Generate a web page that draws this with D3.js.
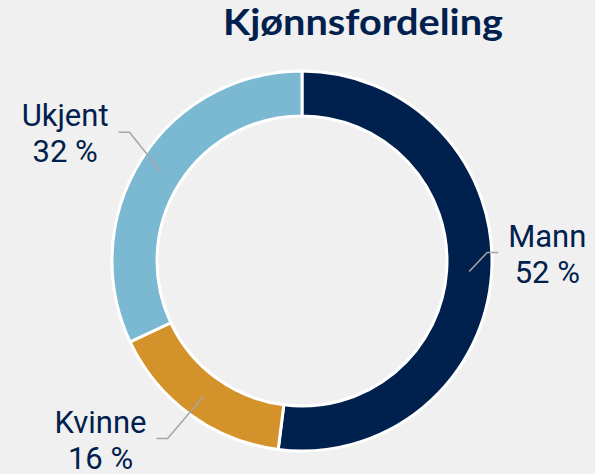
<!DOCTYPE html>
<html>
<head>
<meta charset="utf-8">
<script src="https://cdn.jsdelivr.net/npm/d3@7"></script>
<style>
  body { margin: 0; background: #f0f0f0; }
  svg { display: block; }
</style>
</head>
<body>
<div id="chart"></div>
<script>
// data
var categories = ["Mann", "Kvinne", "Ukjent"];
var values = [52, 16, 32];
var colors = ["#00204d", "#d4922a", "#7bb8d2"];

var w = 595, h = 474;
var cx = 302, cy = 261;
var outerR = 190, innerR = 145;

// leader line elbow, offset from the slice centroid
var elbowOff = { "Mann": [18, -19], "Kvinne": [-36, 42], "Ukjent": [-31, -39] };

var svg = d3.select("#chart").append("svg")
  .attr("width", w)
  .attr("height", h);

svg.append("rect").attr("width", w).attr("height", h).attr("fill", "#f0f0f0");

svg.append("text")
  .attr("x", 363)
  .attr("y", 35)
  .attr("text-anchor", "middle")
  .attr("font-family", "Lato")
  .attr("font-weight", 700)
  .attr("font-size", 36)
  .attr("fill", "#00204d")
  .attr("textLength", 280)
  .attr("lengthAdjust", "spacingAndGlyphs")
  .text("Kjønnsfordeling");

var data = categories.map((c, i) => ({ name: c, value: values[i], color: colors[i] }));

var pie = d3.pie().sort(null).value(d => d.value);
var arcs = pie(data);

var arc = d3.arc().innerRadius(innerR).outerRadius(outerR);

var g = svg.append("g").attr("transform", "translate(" + cx + "," + cy + ")");

g.selectAll("path")
  .data(arcs)
  .enter()
  .append("path")
  .attr("d", arc)
  .attr("fill", d => d.data.color)
  .attr("stroke", "white")
  .attr("stroke-width", 3)
  .attr("stroke-linejoin", "round");

arcs.forEach(function(d) {
  var p0 = arc.centroid(d);
  var off = elbowOff[d.data.name];
  var p1 = [p0[0] + off[0], p0[1] + off[1]];
  var side = off[0] > 0 ? 1 : -1;
  var p2 = [p1[0] + side * 11, p1[1]];

  g.append("polyline")
    .attr("points", [p0, p1, p2].map(p => p.join(",")).join(" "))
    .attr("fill", "none")
    .attr("stroke", "#a6a6a6")
    .attr("stroke-width", 1.5);

  var lbl = g.append("text")
    .attr("font-family", "Roboto")
    .attr("font-size", 31)
    .attr("fill", "#00204d")
    .attr("text-anchor", "middle");
  var t1 = lbl.append("tspan").attr("y", p1[1] - 6).text(d.data.name);
  var t2 = lbl.append("tspan").attr("y", p1[1] + 30).text(d.data.value + " %");
  var tw = Math.max(t1.node().getComputedTextLength(), t2.node().getComputedTextLength());
  var x = p2[0] + side * (10 + tw / 2);
  t1.attr("x", x);
  t2.attr("x", x);
});
</script>
</body>
</html>
